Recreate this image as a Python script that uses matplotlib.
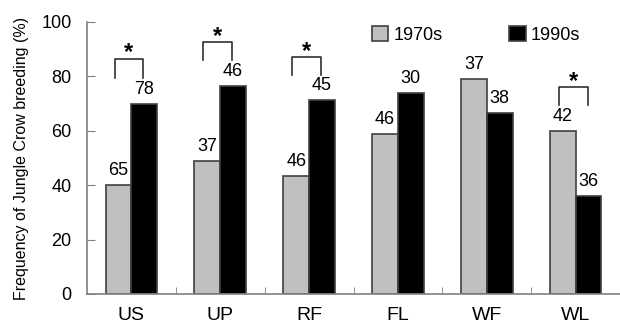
import numpy as np
import matplotlib.pyplot as plt

plt.rcParams['font.family'] = ['Liberation Sans', 'DejaVu Sans']

habitats = ['US', 'UP', 'RF', 'FL', 'WF', 'WL']
freq_1970s = [40, 49, 43.5, 59, 79, 60]
freq_1990s = [70, 76.5, 71.5, 74, 66.5, 36]
n_1970s = ['65', '37', '46', '46', '37', '42']
n_1990s = ['78', '46', '45', '30', '38', '36']
# significant pairs: (group index, bracket top, left leg end, right leg end)
signif = [(0, 86.5, 79.5, 79.5), (1, 92.5, 86, 86), (2, 87, 80.5, 80.5), (5, 76, 69.5, 69.5)]

x = np.arange(len(habitats))
w = 0.29

fig = plt.figure(figsize=(6.2, 3.28), dpi=100)
ax = fig.add_axes([87 / 620, (328 - 294) / 328, 533 / 620, 272 / 328])

edge = '#404040'
ax.bar(x - w / 2, freq_1970s, w, color='#c0c0c0', edgecolor=edge, linewidth=1.2, label='1970s')
ax.bar(x + w / 2, freq_1990s, w, color='black', edgecolor=edge, linewidth=1.2, label='1990s')

for xi, v, t in zip(x - w / 2, freq_1970s, n_1970s):
    ax.text(xi, v + 2.2, t, ha='center', va='bottom', fontsize=13)
for xi, v, t in zip(x + w / 2, freq_1990s, n_1990s):
    ax.text(xi, v + 2.2, t, ha='center', va='bottom', fontsize=13)

for gi, top, l_end, r_end in signif:
    xl, xr = gi - 0.19, gi + 0.135
    ax.plot([xl, xl, xr, xr], [l_end, top, top, r_end], color='#303030', lw=1.2)
    ax.text((xl + xr) / 2, top - 2.0, '*', ha='center', va='bottom', fontsize=17, fontweight='bold')

ax.set_xlim(-0.5, 5.5)
ax.set_ylim(0, 100)
ax.set_yticks([0, 20, 40, 60, 80, 100])
ax.set_xticks(x)
ax.set_xticklabels(habitats, fontsize=14)
ax.set_xticks(np.arange(0.5, 5.5, 1), minor=True)
ax.tick_params(axis='x', which='major', length=0, pad=9)
ax.tick_params(axis='x', which='minor', direction='in', length=5, color='#808080')
ax.tick_params(axis='y', direction='in', length=6, color='#808080', labelsize=13, pad=11)

for s in ['top', 'right']:
    ax.spines[s].set_visible(False)
for s in ['left', 'bottom']:
    ax.spines[s].set_color('#808080')
    ax.spines[s].set_linewidth(1.2)

ax.set_ylabel('Frequency of Jungle Crow breeding (%)', fontsize=11.5, labelpad=9)
ax.legend(loc='upper center', bbox_to_anchor=(0.73, 1.045), ncol=2, frameon=False,
          fontsize=13, handlelength=0.9, handleheight=0.9, handletextpad=0.3, columnspacing=3.7)

fig.savefig('out.png', dpi=100)
